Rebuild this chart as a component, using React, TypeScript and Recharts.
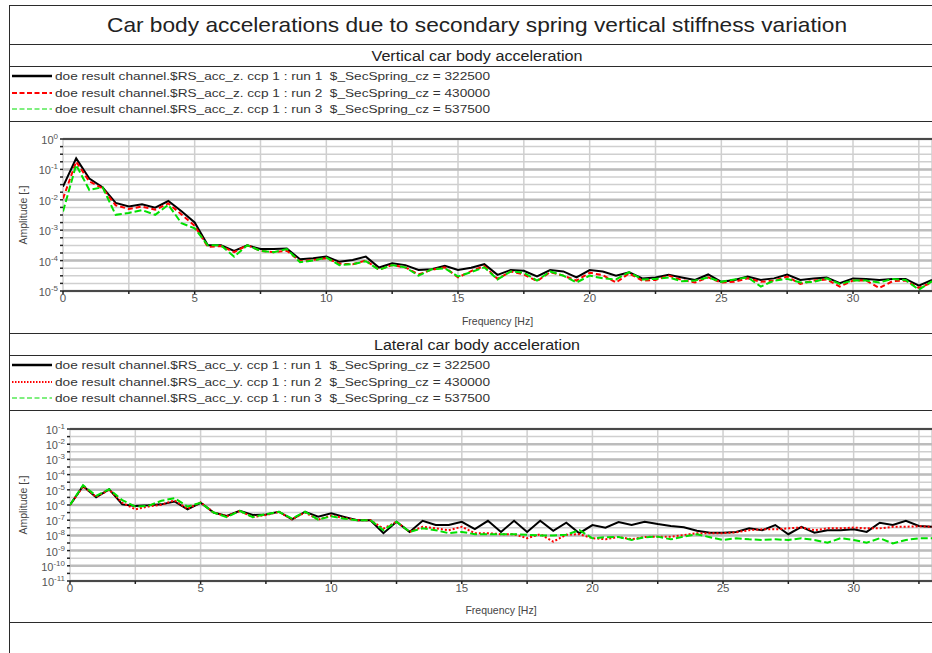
import React from 'react';
import { LineChart, Line, XAxis, YAxis, CartesianGrid, ReferenceLine } from 'recharts';

const FONT = '"Liberation Sans", Arial, Helvetica, sans-serif';

// frequency grid of the spectra [Hz]
const freq = [
  0, 0.5, 1, 1.5, 2, 2.5, 3, 3.5, 4, 4.5, 5, 5.5, 6, 6.5, 7, 7.5, 8, 8.5, 9, 9.5,
  10, 10.5, 11, 11.5, 12, 12.5, 13, 13.5, 14, 14.5, 15, 15.5, 16, 16.5, 17, 17.5, 18, 18.5, 19, 19.5,
  20, 20.5, 21, 21.5, 22, 22.5, 23, 23.5, 24, 24.5, 25, 25.5, 26, 26.5, 27, 27.5, 28, 28.5, 29, 29.5,
  30, 30.5, 31, 31.5, 32, 32.5, 33,
];

// vertical car body acceleration amplitude, runs 1..3
const vertRun1 = [
  2.7e-2, 2.3e-1, 5.0e-2, 2.6e-2, 7.9e-3, 6.0e-3, 7.1e-3, 5.5e-3, 9.1e-3, 4.2e-3,
  1.8e-3, 3.2e-4, 3.2e-4, 2.1e-4, 3.2e-4, 2.4e-4, 2.4e-4, 2.5e-4, 1.1e-4, 1.2e-4,
  1.35e-4, 9.1e-5, 1.05e-4, 1.35e-4, 5.9e-5, 8.1e-5, 7.1e-5, 4.9e-5, 5.2e-5, 6.8e-5,
  4.9e-5, 5.8e-5, 7.6e-5, 3.4e-5, 4.9e-5, 4.6e-5, 3.0e-5, 4.9e-5, 4.4e-5, 2.8e-5,
  4.9e-5, 4.4e-5, 3.2e-5, 4.1e-5, 2.6e-5, 2.8e-5, 3.4e-5, 2.8e-5, 2.3e-5, 3.5e-5,
  2.0e-5, 2.3e-5, 3.0e-5, 2.3e-5, 2.6e-5, 3.5e-5, 2.3e-5, 2.6e-5, 2.8e-5, 1.8e-5,
  2.6e-5, 2.5e-5, 2.3e-5, 2.5e-5, 2.5e-5, 1.5e-5, 2.3e-5,
];
const vertRun2 = [
  1.1e-2, 1.8e-1, 4.0e-2, 2.4e-2, 6.6e-3, 5.0e-3, 6.0e-3, 4.7e-3, 7.6e-3, 3.3e-3,
  1.4e-3, 2.8e-4, 3.0e-4, 1.9e-4, 3.2e-4, 2.1e-4, 1.9e-4, 2.1e-4, 9.5e-5, 1.05e-4,
  1.2e-4, 7.9e-5, 7.6e-5, 1.0e-4, 5.0e-5, 7.1e-5, 6.0e-5, 3.5e-5, 5.0e-5, 6.0e-5,
  2.8e-5, 4.5e-5, 6.6e-5, 2.5e-5, 4.4e-5, 3.5e-5, 2.1e-5, 4.2e-5, 3.2e-5, 2.2e-5,
  4.0e-5, 3.3e-5, 1.9e-5, 3.8e-5, 2.2e-5, 2.3e-5, 3.2e-5, 2.3e-5, 1.9e-5, 2.8e-5,
  1.9e-5, 2.0e-5, 2.6e-5, 2.0e-5, 2.2e-5, 3.0e-5, 1.7e-5, 2.2e-5, 2.4e-5, 1.4e-5,
  2.2e-5, 2.2e-5, 1.26e-5, 2.1e-5, 2.2e-5, 1.26e-5, 1.9e-5,
];
const vertRun3 = [
  4.1e-3, 1.4e-1, 2.1e-2, 2.6e-2, 3.2e-3, 3.7e-3, 4.6e-3, 3.2e-3, 6.8e-3, 1.7e-3,
  1.15e-3, 3.2e-4, 3.2e-4, 1.35e-4, 3.2e-4, 2.1e-4, 1.9e-4, 2.4e-4, 8.9e-5, 1.0e-4,
  1.26e-4, 7.1e-5, 7.6e-5, 9.5e-5, 5.0e-5, 7.1e-5, 6.0e-5, 3.2e-5, 5.2e-5, 5.6e-5,
  3.0e-5, 4.2e-5, 6.0e-5, 2.4e-5, 4.4e-5, 4.0e-5, 2.2e-5, 4.4e-5, 3.2e-5, 1.9e-5,
  3.2e-5, 2.6e-5, 2.4e-5, 4.2e-5, 2.4e-5, 2.5e-5, 2.8e-5, 2.1e-5, 2.2e-5, 2.8e-5,
  2.0e-5, 2.4e-5, 2.8e-5, 1.4e-5, 2.2e-5, 2.5e-5, 1.9e-5, 2.0e-5, 2.6e-5, 1.7e-5,
  2.2e-5, 2.2e-5, 1.9e-5, 2.5e-5, 2.3e-5, 1.1e-5, 2.1e-5,
];

// lateral car body acceleration amplitude, runs 1..3
const latRun1 = [
  1.0e-6, 1.8e-5, 3.2e-6, 1.07e-5, 1.1e-6, 8.7e-7, 9.5e-7, 1.1e-6, 1.7e-6, 5.2e-7,
  1.4e-6, 3.2e-7, 1.9e-7, 4.1e-7, 2.2e-7, 2.4e-7, 3.6e-7, 1.15e-7, 3.6e-7, 1.7e-7,
  2.8e-7, 1.66e-7, 1.0e-7, 1.0e-7, 1.4e-8, 7.9e-8, 1.7e-8, 9.1e-8, 4.8e-8, 4.8e-8,
  7.9e-8, 2.6e-8, 9.1e-8, 1.7e-8, 9.1e-8, 1.7e-8, 9.1e-8, 2.0e-8, 6.8e-8, 1.4e-8,
  4.8e-8, 3.2e-8, 7.6e-8, 4.8e-8, 7.9e-8, 5.6e-8, 4.2e-8, 3.4e-8, 2.0e-8, 1.5e-8,
  1.5e-8, 1.7e-8, 2.9e-8, 2.2e-8, 4.8e-8, 1.2e-8, 3.7e-8, 1.5e-8, 2.2e-8, 2.2e-8,
  2.5e-8, 1.7e-8, 6.8e-8, 4.8e-8, 9.1e-8, 4.2e-8, 3.7e-8,
];
const latRun2 = [
  1.0e-6, 1.66e-5, 3.4e-6, 1.0e-5, 1.4e-6, 5.2e-7, 7.9e-7, 1.05e-6, 2.0e-6, 5.6e-7,
  1.5e-6, 3.2e-7, 1.8e-7, 4.0e-7, 1.6e-7, 2.2e-7, 3.5e-7, 1.15e-7, 3.2e-7, 1.1e-7,
  2.0e-7, 1.4e-7, 1.0e-7, 1.0e-7, 2.8e-8, 7.9e-8, 1.7e-8, 3.7e-8, 2.9e-8, 2.2e-8,
  3.7e-8, 1.4e-8, 1.4e-8, 1.2e-8, 1.2e-8, 6.5e-9, 1.2e-8, 3.9e-9, 1.1e-8, 1.2e-8,
  6.5e-9, 5.6e-9, 7.9e-9, 5.6e-9, 7.9e-9, 8.3e-9, 8.3e-9, 1.05e-8, 1.4e-8, 1.4e-8,
  1.4e-8, 1.6e-8, 2.2e-8, 2.5e-8, 2.5e-8, 2.9e-8, 3.3e-8, 2.2e-8, 2.9e-8, 2.9e-8,
  3.3e-8, 2.9e-8, 2.9e-8, 3.7e-8, 3.7e-8, 4.0e-8, 3.7e-8,
];
const latRun3 = [
  1.0e-6, 2.0e-5, 4.0e-6, 1.1e-5, 2.1e-6, 7.9e-7, 8.7e-7, 1.9e-6, 2.8e-6, 7.9e-7,
  1.4e-6, 3.2e-7, 1.6e-7, 4.1e-7, 1.6e-7, 2.5e-7, 3.6e-7, 1.26e-7, 3.6e-7, 1.1e-7,
  1.8e-7, 1.26e-7, 1.0e-7, 1.0e-7, 2.2e-8, 7.9e-8, 1.7e-8, 2.9e-8, 2.2e-8, 1.4e-8,
  1.7e-8, 1.2e-8, 1.2e-8, 1.2e-8, 1.2e-8, 1.1e-8, 1.0e-8, 1.0e-8, 1.1e-8, 2.2e-8,
  6.5e-9, 7.6e-9, 7.9e-9, 5.0e-9, 7.6e-9, 8.3e-9, 5.5e-9, 8.3e-9, 1.2e-8, 7.6e-9,
  5.0e-9, 6.5e-9, 5.5e-9, 5.0e-9, 5.5e-9, 5.0e-9, 6.5e-9, 5.0e-9, 3.3e-9, 6.5e-9,
  5.0e-9, 3.3e-9, 6.5e-9, 3.0e-9, 5.0e-9, 6.5e-9, 6.5e-9,
];

// axis ticks: every 2.5 Hz, quarter decades (vertical) and half decades (lateral)
const freqTicks = [0, 2.5, 5, 7.5, 10, 12.5, 15, 17.5, 20, 22.5, 25, 27.5, 30, 32.5];
const vertTicks = [
  1e-5, 1.78e-5, 3.16e-5, 5.62e-5, 1e-4, 1.78e-4, 3.16e-4, 5.62e-4, 1e-3, 1.78e-3, 3.16e-3,
  5.62e-3, 1e-2, 1.78e-2, 3.16e-2, 5.62e-2, 1e-1, 1.78e-1, 3.16e-1, 5.62e-1, 1,
];
const vertDecades = [1e-5, 1e-4, 1e-3, 1e-2, 1e-1, 1];
const latTicks = [
  1e-11, 3.16e-11, 1e-10, 3.16e-10, 1e-9, 3.16e-9, 1e-8, 3.16e-8, 1e-7, 3.16e-7, 1e-6,
  3.16e-6, 1e-5, 3.16e-5, 1e-4, 3.16e-4, 1e-3, 3.16e-3, 1e-2, 3.16e-2, 1e-1,
];
const latDecades = [1e-11, 1e-10, 1e-9, 1e-8, 1e-7, 1e-6, 1e-5, 1e-4, 1e-3, 1e-2, 1e-1];

const springValues = ['322500', '430000', '537500'];
const vertLegend = springValues.map(
  (v, i) => `doe result channel.$RS_acc_z. ccp 1 : run ${i + 1}  $_SecSpring_cz = ${v}`
);
const latLegend = springValues.map(
  (v, i) => `doe result channel.$RS_acc_y. ccp 1 : run ${i + 1}  $_SecSpring_cz = ${v}`
);

const vertRows = freq.map((f, i) => ({ f, r1: vertRun1[i], r2: vertRun2[i], r3: vertRun3[i] }));
const latRows = freq.map((f, i) => ({ f, r1: latRun1[i], r2: latRun2[i], r3: latRun3[i] }));

const GREEN = '#00e000';
const RED = '#ff0000';

// "10" with a raised exponent, only on whole decades
const PowerTick = (props: any) => {
  const { x, y, payload } = props;
  const e = Math.log10(payload.value);
  if (Math.abs(e - Math.round(e)) > 0.01) return <g />;
  const exp = Math.round(e);
  return (
    <text x={x} y={y + 5} textAnchor="end" fill="#555" fontSize={11} fontFamily={FONT}>
      10
      <tspan dy={-5} fontSize={8}>
        {exp === 0 ? '0' : `-${Math.abs(exp)}`}
      </tspan>
    </text>
  );
};

const freqLabel = (v: number) => (v % 5 === 0 ? String(v) : '');

const Hr = ({ y }: { y: number }) => (
  <div style={{ position: 'absolute', left: 9, top: y, width: 940, height: 0, borderTop: '1.5px solid #2b2b2b' }} />
);

const LegendRow = ({ y, color, width, dash, text }: any) => (
  <svg style={{ position: 'absolute', left: 0, top: y - 8 }} width={932} height={16}>
    <line x1={12} x2={52} y1={8} y2={8} stroke={color} strokeWidth={width} strokeDasharray={dash} />
    <text
      x={55}
      y={11.5}
      fontSize={10.5}
      fontFamily={FONT}
      fill="#333"
      textLength={435}
      lengthAdjust="spacingAndGlyphs"
      style={{ whiteSpace: 'pre' }}
    >
      {text}
    </text>
  </svg>
);

// centred heading stretched to the width of the printed original
const Heading = ({ top, height, size, length, text }: any) => (
  <svg style={{ position: 'absolute', left: 9, top }} width={936} height={height}>
    <text
      x={468}
      y={height / 2 + size * 0.36}
      textAnchor="middle"
      fontSize={size}
      fontFamily={FONT}
      fill="#222"
      textLength={length}
      lengthAdjust="spacingAndGlyphs"
    >
      {text}
    </text>
  </svg>
);

const SpectrumChart = ({ rows, ticks, decades, domain, yWidth, top, topMargin, axisHeight, redDash }: any) => (
  <div style={{ position: 'absolute', left: 10, top }}>
    <LineChart width={922} height={210} data={rows} margin={{ top: topMargin, right: 0, bottom: 0, left: 8 }}>
      <CartesianGrid stroke="#cfcfcf" strokeWidth={1.5} />
      {decades.map((d: number) => (
        <ReferenceLine key={d} y={d} stroke="#bcbcbc" strokeWidth={2.5} />
      ))}
      <ReferenceLine y={domain[1]} stroke="#222" strokeWidth={1.5} />
      <XAxis
        dataKey="f"
        type="number"
        domain={[0, 33]}
        ticks={freqTicks}
        interval={0}
        tickFormatter={freqLabel}
        height={axisHeight}
        tickSize={3}
        tickMargin={0}
        stroke="#222"
        strokeWidth={1.5}
        tick={{ fill: '#555', fontSize: 11.5, fontFamily: FONT }}
        allowDataOverflow
        label={{ value: 'Frequency [Hz]', position: 'insideBottom', offset: 7, fill: '#444', fontSize: 10.5, fontFamily: FONT }}
      />
      <YAxis
        type="number"
        scale="log"
        domain={domain}
        ticks={ticks}
        interval={0}
        width={yWidth}
        allowDataOverflow
        axisLine={false}
        tickSize={3}
        tickMargin={2}
        tickLine={{ stroke: '#222', strokeWidth: 1.5 }}
        tick={<PowerTick />}
        label={{
          value: 'Amplitude [-]', angle: -90, position: 'insideLeft', offset: 5,
          fill: '#444', fontSize: 10.5, fontFamily: FONT, style: { textAnchor: 'middle' },
        }}
      />
      <Line type="linear" dataKey="r1" stroke="#000" strokeWidth={2} dot={false} isAnimationActive={false} />
      <Line type="linear" dataKey="r2" stroke={RED} strokeWidth={2} strokeDasharray={redDash} dot={false} isAnimationActive={false} />
      <Line type="linear" dataKey="r3" stroke={GREEN} strokeWidth={2} strokeDasharray="7 3" dot={false} isAnimationActive={false} />
    </LineChart>
  </div>
);

export default function App() {
  return (
    <div style={{ position: 'absolute', left: 0, top: 0, width: 932, height: 653, overflow: 'hidden', background: '#fff' }}>
      <div style={{ position: 'absolute', left: 9, top: 5, width: 0, height: 660, borderLeft: '1.5px solid #2b2b2b' }} />
      {[5, 44, 66, 121, 333, 355, 410, 622].map((y) => (
        <Hr key={y} y={y} />
      ))}

      <Heading top={5} height={39} size={21} length={740} text="Car body accelerations due to secondary spring vertical stiffness variation" />

      <Heading top={44} height={22} size={15.5} length={211} text="Vertical car body acceleration" />
      <LegendRow y={76} color="#000" width={2.5} text={vertLegend[0]} />
      <LegendRow y={92.7} color={RED} width={2} dash="5 2.5" text={vertLegend[1]} />
      <LegendRow y={109.3} color={GREEN} width={1.2} dash="5 2.5" text={vertLegend[2]} />
      <SpectrumChart
        rows={vertRows} ticks={vertTicks} decades={vertDecades} domain={[1e-5, 1]}
        yWidth={45} top={122} topMargin={17} axisHeight={41} redDash="5 3"
      />

      <Heading top={333} height={22} size={15.5} length={206} text="Lateral car body acceleration" />
      <LegendRow y={365} color="#000" width={2.5} text={latLegend[0]} />
      <LegendRow y={381.7} color={RED} width={2} dash="1.5 1.5" text={latLegend[1]} />
      <LegendRow y={398.3} color={GREEN} width={1.2} dash="5 2.5" text={latLegend[2]} />
      <SpectrumChart
        rows={latRows} ticks={latTicks} decades={latDecades} domain={[1e-11, 1e-1]}
        yWidth={52} top={411} topMargin={18} axisHeight={40} redDash="2 2"
      />
    </div>
  );
}
